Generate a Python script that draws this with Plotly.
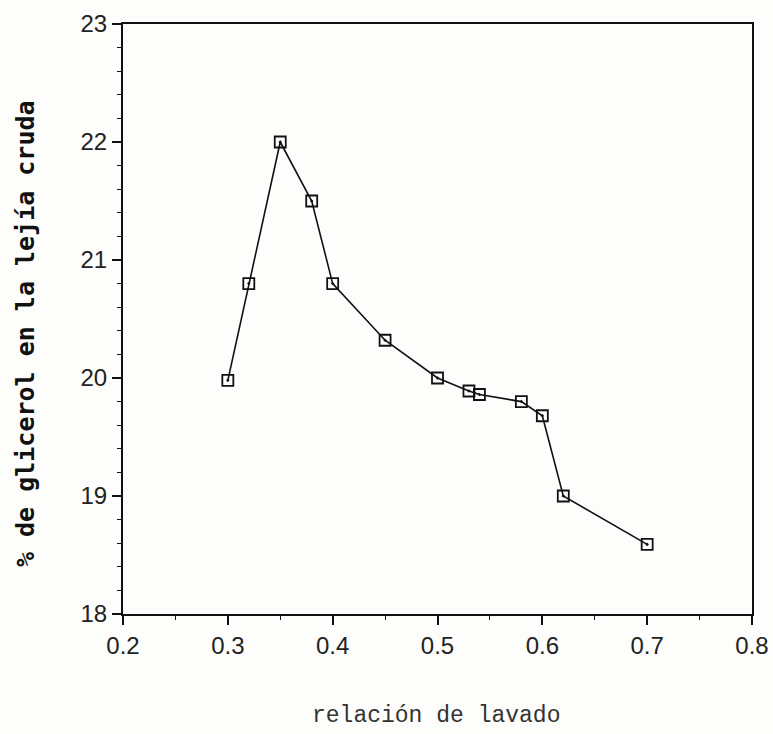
import plotly.graph_objects as go

relacion_lavado = [0.30, 0.32, 0.35, 0.38, 0.40, 0.45, 0.50, 0.53, 0.54, 0.58, 0.60, 0.62, 0.70]
glicerol_pct = [19.98, 20.80, 22.00, 21.50, 20.80, 20.32, 20.00, 19.89, 19.86, 19.80, 19.68, 19.00, 18.59]

x_ticks = [0.2, 0.3, 0.4, 0.5, 0.6, 0.7, 0.8]
x_tick_text = ["0.2", "0.3", "0.4", "0.5", "0.6", "0.7", "0.8"]
y_ticks = [18, 19, 20, 21, 22, 23]
y_tick_text = ["18", "19", "20", "21", "22", "23"]

fig = go.Figure()
fig.add_trace(go.Scatter(
    x=relacion_lavado, y=glicerol_pct, mode="lines+markers",
    line=dict(color="#111111", width=1.6),
    marker=dict(symbol="square-open-dot", size=11, color="#111111",
                line=dict(color="#111111", width=1.8)),
    showlegend=False,
))

tickfont = dict(family="Liberation Sans, Arial", size=24, color="#222222")

fig.update_layout(
    width=773, height=734,
    margin=dict(l=123, r=21, t=24, b=120),
    paper_bgcolor="#fdfdfb", plot_bgcolor="#fdfdfb",
    xaxis=dict(range=[0.2, 0.8], tickvals=x_ticks, ticktext=x_tick_text,
               showgrid=False, zeroline=False, showline=True, linecolor="#111111",
               linewidth=2, mirror=True, ticks="outside", ticklen=9, tickwidth=1.5,
               tickcolor="#111111", tickfont=tickfont, automargin=False,
               minor=dict(dtick=0.05, ticks="outside", ticklen=4, tickwidth=1.2,
                          tickcolor="#111111", showgrid=False)),
    yaxis=dict(range=[18, 23], tickvals=y_ticks, ticktext=y_tick_text,
               showgrid=False, zeroline=False, showline=True, linecolor="#111111",
               linewidth=2, mirror=True, ticks="outside", ticklen=9, tickwidth=1.5,
               tickcolor="#111111", tickfont=tickfont, automargin=False,
               minor=dict(dtick=0.2, ticks="outside", ticklen=4, tickwidth=1.2,
                          tickcolor="#111111", showgrid=False)),
    annotations=[
        dict(text="% de glicerol en la lejía cruda", xref="paper", yref="paper",
             x=-0.156, y=0.476, xanchor="center", yanchor="middle", textangle=-90,
             showarrow=False,
             font=dict(family="DejaVu Sans Mono", size=25, color="#111111", weight="bold")),
        dict(text="relación de lavado", xref="paper", yref="paper",
             x=0.497, y=-0.173, xanchor="center", yanchor="middle", showarrow=False,
             font=dict(family="Liberation Mono", size=23, color="#333333")),
    ],
)

fig.write_html("out.html", config={"displayModeBar": False},
               post_script="document.body.style.margin='0';")
